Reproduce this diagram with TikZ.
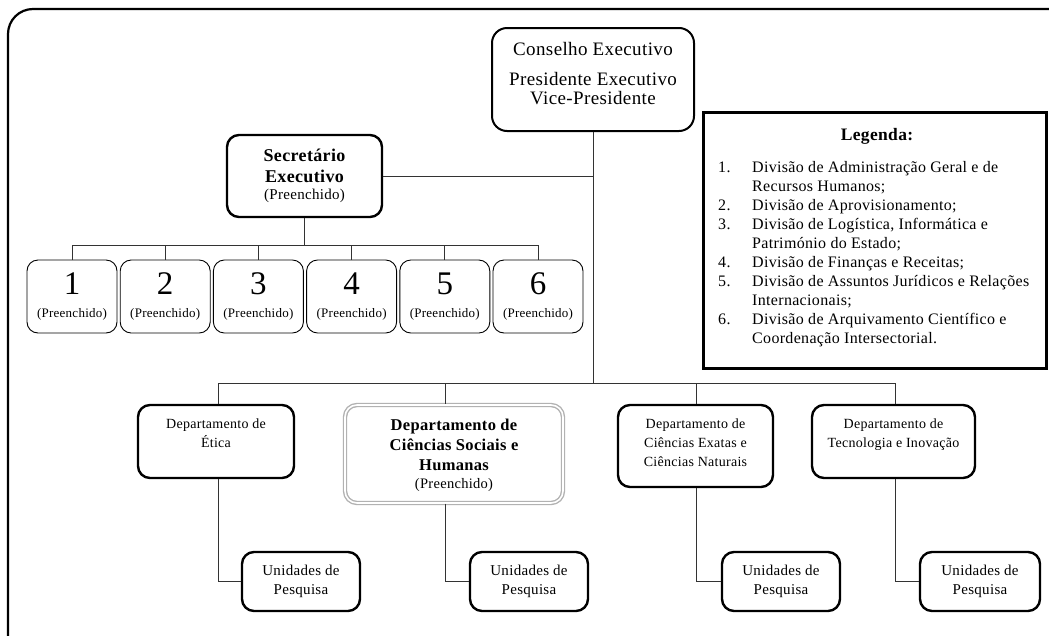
\documentclass[tikz,border=0pt]{standalone}
\usepackage{fontspec}
\setmainfont[LetterSpace=2]{Liberation Serif}
\newfontfamily\topfont[LetterSpace=2]{Liberation Serif}
\usetikzlibrary{positioning}

\begin{document}
\begin{tikzpicture}[x=1pt,y=-1pt,
    chefe/.style={draw, line width=2pt, rounded corners=15pt, minimum width=202pt,
      minimum height=103pt, inner sep=0pt},
    bigbox/.style={draw, line width=2.4pt, rounded corners=12pt, align=center, inner sep=0pt},
    divbox/.style={draw, line width=0.9pt, rounded corners=11pt, minimum width=90pt,
      minimum height=73pt, align=center, inner sep=0pt, font=\fontsize{13}{23}\selectfont},
    unibox/.style={bigbox, minimum width=118pt, minimum height=59pt,
      font=\fontsize{15}{19}\selectfont},
    deptxt/.style={inner sep=0pt, align=center, font=\fontsize{14}{19}\selectfont},
    conn/.style={draw=black!80, line width=1pt}]
\useasboundingbox (0,0) rectangle (1049,635);

% moldura
\draw[line width=2.2pt, rounded corners=25pt] (8,9) rectangle (1075,660);

% topo
\node[chefe] (cons) at (593,79.5) {};
\node[inner sep=0pt, align=center, font=\topfont\fontsize{19}{19}\selectfont,
  below=15pt of cons.north] (consT)
  {Conselho Executivo\\[11pt]Presidente Executivo\\Vice-Presidente};
\node[bigbox, minimum width=155pt, minimum height=82pt,
  font=\bfseries\fontsize{18}{21}\selectfont] (sec) at (304.5,176)
  {Secretário\\Executivo\\[-4pt]{\normalfont\fontsize{15}{17}\selectfont (Preenchido)}};

% divisoes
\foreach \n in {1,...,6}
  \node[divbox] (d\n) at ({72+93.2*(\n-1)},296.5)
    {{\fontsize{33}{23}\selectfont \n}\\(Preenchido)};

\coordinate (secbus) at (304.5,245);
\draw[conn] (sec.south) -- (secbus);
\draw[conn] (d1.north |- secbus) -- (d6.north |- secbus);
\foreach \n in {1,...,6}
  \draw[conn] (d\n.north |- secbus) -- (d\n.north);

% departamentos
\node[bigbox, minimum width=156pt, minimum height=73pt] (eti) at (216,441.5) {};
\node[bigbox, draw=gray!60, double=white, double distance=1.6pt, line width=1.4pt,
  minimum width=218pt, minimum height=98pt] (csh) at (454,454) {};
\node[bigbox, minimum width=155pt, minimum height=82pt] (exa) at (695.5,446) {};
\node[bigbox, minimum width=163pt, minimum height=73pt] (tec) at (893.5,441.5) {};

\node[deptxt, below=15pt of eti.north] (etiT) {Departamento de\\Ética};
\node[deptxt, below=15pt of csh.north, font=\bfseries\fontsize{16.5}{20}\selectfont] (cshT)
  {Departamento de\\Ciências Sociais e\\Humanas\\[-2pt]{\normalfont\fontsize{14.5}{18}\selectfont (Preenchido)}};
\node[deptxt, below=15pt of exa.north] (exaT) {Departamento de\\Ciências Exatas e\\Ciências Naturais};
\node[deptxt, below=15pt of tec.north] (tecT) {Departamento de\\Tecnologia e Inovação};

% unidades
\node[unibox] (u1) at (301,581.5) {Unidades de\\Pesquisa};
\node[unibox] (u2) at (529,581.5) {Unidades de\\Pesquisa};
\node[unibox] (u3) at (781,581.5) {Unidades de\\Pesquisa};
\node[unibox, minimum width=120pt] (u4) at (980,581.5) {Unidades de\\Pesquisa};

\coordinate (t1) at (218,383);
\coordinate (t2) at (445,383);
\coordinate (t3) at (696,383);
\coordinate (t4) at (895,383);
\draw[conn] (cons.south) -- (cons.south |- t1);
\draw[conn] (sec.east) -- (sec.east -| cons.south);
\draw[conn] (t1) -- (t4);
\draw[conn] (t1) -- (t1 |- eti.north);
\draw[conn] (t2) -- (t2 |- csh.north);
\draw[conn] (t3) -- (t3 |- exa.north);
\draw[conn] (t4) -- (t4 |- tec.north);
\draw[conn] (t1 |- eti.south) |- (u1.west);
\draw[conn] (t2 |- csh.south) |- (u2.west);
\draw[conn] (t3 |- exa.south) |- (u3.west);
\draw[conn] (t4 |- tec.south) |- (u4.west);

% legenda
\node[draw, line width=3pt, minimum width=343pt, minimum height=256pt, inner sep=0pt]
  (leg) at (874.5,240) {};
\node[anchor=base, font=\bfseries\fontsize{17.5}{20}\selectfont] (legtitle) at (877,140) {Legenda:};
\node[anchor=north west, inner sep=0pt, font=\fontsize{16}{19}\selectfont] (legtext) at (718,158.7)
  {\begin{tabular}{@{}p{34pt}@{}l@{}}
   1. & Divisão de Administração Geral e de\\
      & Recursos Humanos;\\
   2. & Divisão de Aprovisionamento;\\
   3. & Divisão de Logística, Informática e\\
      & Património do Estado;\\
   4. & Divisão de Finanças e Receitas;\\
   5. & Divisão de Assuntos Jurídicos e Relações\\
      & Internacionais;\\
   6. & Divisão de Arquivamento Científico e\\
      & Coordenação Intersectorial.
   \end{tabular}};
\end{tikzpicture}
\end{document}
